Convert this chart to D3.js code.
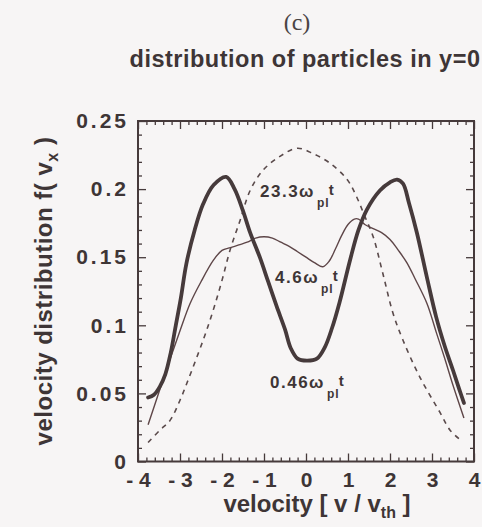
<!DOCTYPE html>
<html>
<head>
<meta charset="utf-8">
<script src="https://cdn.jsdelivr.net/npm/d3@7"></script>
<style>
  html, body { margin: 0; padding: 0; background: #f7f5f5; }
  svg { display: block; }
</style>
</head>
<body>
<svg id="chart" width="482" height="527"></svg>
<script>
// ---- data ----
const xTicks = [-4, -3, -2, -1, 0, 1, 2, 3, 4];
const xTickLabels = ["- 4", "- 3", "- 2", "- 1", "0", "1", "2", "3", "4"];
const yTicks = [0, 0.05, 0.1, 0.15, 0.2, 0.25];
const yTickLabels = ["0", "0.05", "0.1", "0.15", "0.2", "0.25"];

// 0.46 ω_pi t (thick)
const thickX = [-3.76, -3.62, -3.48, -3.35, -3.22, -3.1, -2.98, -2.85, -2.65, -2.45, -2.2, -1.9, -1.7, -1.5, -1.33, -1.1, -0.9, -0.7, -0.5, -0.36, -0.2, 0.02, 0.26, 0.45, 0.62, 0.8, 1.05, 1.25, 1.45, 1.76, 2.0, 2.17, 2.31, 2.45, 2.64, 2.88, 3.1, 3.3, 3.5, 3.65, 3.76];
const thickY = [0.047, 0.049, 0.055, 0.064, 0.080, 0.100, 0.120, 0.145, 0.170, 0.189, 0.203, 0.209, 0.200, 0.184, 0.168, 0.150, 0.132, 0.114, 0.097, 0.083, 0.0755, 0.074, 0.0755, 0.084, 0.098, 0.117, 0.148, 0.170, 0.185, 0.199, 0.205, 0.207, 0.204, 0.190, 0.168, 0.135, 0.106, 0.085, 0.067, 0.053, 0.043];

// 4.6 ω_pi t (thin)
const thinX = [-3.76, -3.5, -3.25, -3.0, -2.76, -2.5, -2.2, -2.0, -1.8, -1.6, -1.4, -1.2, -1.0, -0.8, -0.6, -0.4, -0.2, 0.0, 0.2, 0.4, 0.55, 0.7, 0.85, 1.0, 1.15, 1.25, 1.4, 1.6, 1.8, 2.0, 2.2, 2.4, 2.6, 2.88, 3.1, 3.3, 3.5, 3.76];
const thinY = [0.027, 0.051, 0.074, 0.096, 0.116, 0.132, 0.148, 0.155, 0.157, 0.159, 0.161, 0.164, 0.165, 0.164, 0.161, 0.158, 0.154, 0.150, 0.146, 0.143, 0.147, 0.156, 0.166, 0.174, 0.178, 0.178, 0.174, 0.171, 0.168, 0.163, 0.155, 0.146, 0.134, 0.116, 0.095, 0.076, 0.056, 0.032];

// 23.3 ω_pi t (dashed)
const dashX = [-3.76, -3.48, -3.24, -3.0, -2.83, -2.45, -2.21, -2.0, -1.81, -1.57, -1.33, -1.02, -0.62, -0.21, 0.17, 0.57, 0.98, 1.21, 1.4, 1.6, 1.83, 2.07, 2.31, 2.71, 3.19, 3.43, 3.67];
const dashY = [0.014, 0.023, 0.030, 0.045, 0.058, 0.089, 0.111, 0.133, 0.155, 0.177, 0.199, 0.214, 0.224, 0.230, 0.226, 0.219, 0.207, 0.194, 0.180, 0.165, 0.138, 0.109, 0.089, 0.062, 0.036, 0.023, 0.016];

const curveLabels = [
  { num: "23.3", x: -1.095, y: 0.194 },
  { num: "4.6",  x: -0.738, y: 0.131 },
  { num: "0.46", x: -0.857, y: 0.054 }
];

// ---- layout ----
const W = 482, H = 527;
const margin = { left: 138, right: 8, top: 121, bottom: 65.5 };
const ink = "#3e3536";
const lineCol = "#463a3b";

const svg = d3.select("#chart");
svg.append("rect").attr("width", W).attr("height", H).attr("fill", "#f7f5f5");

const x = d3.scaleLinear().domain([-4, 4]).range([margin.left, W - margin.right]);
const y = d3.scaleLinear().domain([0, 0.25]).range([H - margin.bottom, margin.top]);

const font = "'Liberation Sans', Arial, Helvetica, sans-serif";

// titles
svg.append("text").attr("x", 297).attr("y", 30).attr("text-anchor", "middle")
  .attr("font-family", "'Liberation Serif', 'Times New Roman', serif")
  .attr("font-size", 24).attr("fill", "#4a4444").text("(c)");

svg.append("text").attr("x", 305).attr("y", 67).attr("text-anchor", "middle")
  .attr("font-family", font).attr("font-weight", "bold")
  .attr("font-size", 23.5).attr("letter-spacing", 0.5).attr("fill", ink)
  .text("distribution of particles in y=0");

// axes
const majorLen = 8, minorLen = 4;
const xMinor = d3.range(-4, 4.0001, 0.2).map(v => +v.toFixed(2)).filter(v => !xTicks.includes(v));
const yMinor = d3.range(0, 0.2501, 0.01).map(v => +v.toFixed(3)).filter(v => !yTicks.some(t => Math.abs(t - v) < 1e-6));

function styleAxis(g) {
  g.select(".domain").remove();
  g.selectAll(".tick line").attr("stroke", lineCol).attr("stroke-width", 1.3);
  g.selectAll(".tick text").attr("fill", ink).attr("font-family", font)
    .attr("font-weight", "bold").attr("font-size", 21);
}

const pBottom = H - margin.bottom, pTop = margin.top, pLeft = margin.left, pRight = W - margin.right;

// bottom major
svg.append("g").attr("transform", `translate(0,${pBottom})`)
  .call(d3.axisBottom(x).tickValues(xTicks).tickSizeInner(-majorLen).tickSizeOuter(0).tickPadding(11)
    .tickFormat((d, i) => xTickLabels[i]))
  .call(styleAxis);
svg.append("g").attr("transform", `translate(0,${pBottom})`)
  .call(d3.axisBottom(x).tickValues(xMinor).tickSizeInner(-minorLen).tickSizeOuter(0).tickFormat(""))
  .call(styleAxis);
// top
svg.append("g").attr("transform", `translate(0,${pTop})`)
  .call(d3.axisTop(x).tickValues(xTicks).tickSizeInner(-majorLen).tickSizeOuter(0).tickFormat(""))
  .call(styleAxis);
svg.append("g").attr("transform", `translate(0,${pTop})`)
  .call(d3.axisTop(x).tickValues(xMinor).tickSizeInner(-minorLen).tickSizeOuter(0).tickFormat(""))
  .call(styleAxis);
// left
const yl = svg.append("g").attr("transform", `translate(${pLeft},0)`)
  .call(d3.axisLeft(y).tickValues(yTicks).tickSizeInner(-majorLen).tickSizeOuter(0).tickPadding(9)
    .tickFormat((d, i) => yTickLabels[i]))
  .call(styleAxis);
yl.selectAll(".tick text").attr("letter-spacing", 3);
svg.append("g").attr("transform", `translate(${pLeft},0)`)
  .call(d3.axisLeft(y).tickValues(yMinor).tickSizeInner(-minorLen).tickSizeOuter(0).tickFormat(""))
  .call(styleAxis);
// right
svg.append("g").attr("transform", `translate(${pRight},0)`)
  .call(d3.axisRight(y).tickValues(yTicks).tickSizeInner(-majorLen).tickSizeOuter(0).tickFormat(""))
  .call(styleAxis);
svg.append("g").attr("transform", `translate(${pRight},0)`)
  .call(d3.axisRight(y).tickValues(yMinor).tickSizeInner(-minorLen).tickSizeOuter(0).tickFormat(""))
  .call(styleAxis);

// frame
svg.append("rect").attr("x", pLeft).attr("y", pTop).attr("width", pRight - pLeft).attr("height", pBottom - pTop)
  .attr("fill", "none").attr("stroke", lineCol).attr("stroke-width", 2);

// curves
const line = d3.line().x(d => x(d[0])).y(d => y(d[1])).curve(d3.curveCatmullRom.alpha(0.5));
const zip = (xs, ys) => xs.map((v, i) => [v, ys[i]]);

svg.append("path").datum(zip(dashX, dashY)).attr("d", line)
  .attr("fill", "none").attr("stroke", "#5a4a4b").attr("stroke-width", 1.6)
  .attr("stroke-dasharray", "5,5");
svg.append("path").datum(zip(thinX, thinY)).attr("d", line)
  .attr("fill", "none").attr("stroke", "#5e4648").attr("stroke-width", 1.4);
svg.append("path").datum(zip(thickX, thickY)).attr("d", line)
  .attr("fill", "none").attr("stroke", lineCol).attr("stroke-width", 3.8)
  .attr("stroke-linejoin", "round").attr("stroke-linecap", "round");

// curve labels
curveLabels.forEach(l => {
  const t = svg.append("text").attr("x", x(l.x)).attr("y", y(l.y))
    .attr("font-family", font).attr("font-weight", "bold").attr("font-size", 17)
    .attr("letter-spacing", 1.5).attr("fill", ink);
  t.append("tspan").text(l.num + "ω");
  t.append("tspan").attr("dx", 2).attr("dy", 10).attr("font-size", 12).attr("letter-spacing", 1).text("pl");
  t.append("tspan").attr("dx", -1).attr("dy", -12).attr("font-size", 15).text("t");
});

// axis titles
const xt = svg.append("text").attr("x", 317).attr("y", 512).attr("text-anchor", "middle")
  .attr("font-family", font).attr("font-weight", "bold").attr("font-size", 24).attr("fill", ink);
xt.append("tspan").text("velocity [ v / v");
xt.append("tspan").attr("dy", 6).attr("font-size", 16).text("th");
xt.append("tspan").attr("dy", -6).text(" ]");

const yt = svg.append("text").attr("transform", "translate(52,291) rotate(-90)").attr("text-anchor", "middle")
  .attr("font-family", font).attr("font-weight", "bold").attr("font-size", 24)
  .attr("letter-spacing", 0.5).attr("fill", ink);
yt.append("tspan").text("velocity distribution  f( v");
yt.append("tspan").attr("dy", 6).attr("font-size", 16).text("x");
yt.append("tspan").attr("dy", -6).text(" )");
</script>
</body>
</html>
